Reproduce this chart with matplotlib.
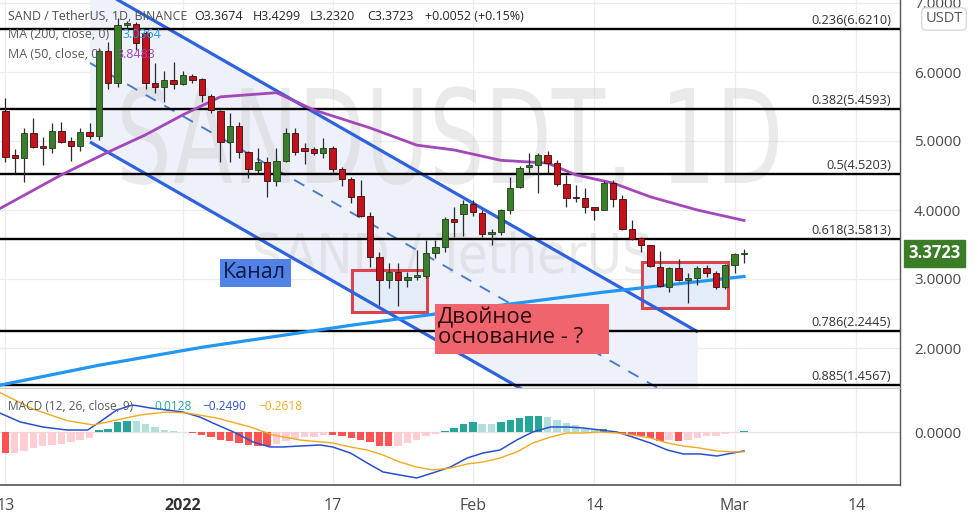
import numpy as np
import pandas as pd
import matplotlib
matplotlib.use("Agg")
import matplotlib.pyplot as plt
from matplotlib.patches import Rectangle, PathPatch, Polygon
from matplotlib.textpath import TextPath
from matplotlib.font_manager import FontProperties
from matplotlib.transforms import Affine2D

plt.rcParams['font.family'] = ['Open Sans', 'DejaVu Sans']

# ---------------- data ----------------
start_date = "2021-12-13"
ref_date = pd.Timestamp("2022-01-01")
opens = [5.43, 4.79, 4.75, 5.12, 4.93, 4.90, 5.14, 5.00, 4.93, 5.13,
         5.07, 6.30, 5.84, 6.68, 6.70, 6.56, 5.84, 5.78, 5.88, 5.83,
         5.94, 5.90, 5.65, 5.43, 4.99, 5.22, 4.84, 4.58, 4.70, 4.42,
         4.71, 5.12, 4.90, 4.89, 4.83, 4.90, 4.59, 4.45, 4.20, 3.91,
         3.32, 2.99, 3.10, 2.98, 3.03, 3.04, 3.38, 3.46, 3.87, 3.94,
         4.09, 3.96, 3.65, 3.68, 4.00, 4.33, 4.62, 4.65, 4.80, 4.68,
         4.38, 4.18, 4.18, 4.04, 4.00, 4.39, 4.16, 3.72, 3.59, 3.49,
         3.17, 2.88, 3.16, 2.98, 3.01, 3.16, 3.09, 2.88, 3.20, 3.3674]
highs = [5.62, 4.88, 5.19, 5.33, 5.06, 5.26, 5.27, 5.06, 5.19, 5.26,
         6.35, 6.44, 6.78, 6.74, 6.73, 6.60, 6.13, 6.01, 6.14, 6.01,
         5.97, 5.91, 5.68, 5.45, 5.41, 5.28, 4.85, 4.90, 4.77, 4.90,
         5.19, 5.19, 4.97, 4.92, 5.04, 4.93, 4.62, 4.48, 4.43, 3.97,
         3.39, 3.23, 3.23, 3.10, 3.42, 3.57, 3.57, 3.90, 4.04, 4.14,
         4.14, 4.00, 3.72, 4.02, 4.48, 4.64, 4.83, 4.83, 4.86, 4.72,
         4.51, 4.36, 4.32, 4.04, 4.42, 4.43, 4.22, 3.86, 3.61, 3.50,
         3.41, 3.18, 3.29, 3.09, 3.19, 3.20, 3.12, 3.22, 3.38, 3.4299]
lows = [4.70, 4.54, 4.41, 4.90, 4.65, 4.83, 4.97, 4.71, 4.86, 5.03,
        5.01, 5.75, 5.78, 6.64, 6.32, 5.75, 5.70, 5.57, 5.75, 5.81,
        5.84, 5.57, 5.40, 4.70, 4.70, 4.75, 4.46, 4.54, 4.19, 4.35,
        4.70, 4.80, 4.67, 4.80, 4.75, 4.55, 4.35, 4.10, 3.90, 3.17,
        2.62, 2.87, 2.61, 2.88, 2.99, 3.01, 3.30, 3.39, 3.61, 3.62,
        3.92, 3.61, 3.49, 3.64, 3.94, 4.32, 4.54, 4.25, 4.54, 4.35,
        4.04, 4.12, 3.96, 3.86, 4.00, 4.04, 3.71, 3.56, 3.39, 3.17,
        2.88, 2.81, 2.97, 2.65, 2.91, 3.03, 2.85, 2.86, 3.09, 3.2320]
closes = [4.77, 4.76, 5.12, 4.91, 4.90, 5.14, 4.99, 4.93, 5.13, 5.07,
          6.30, 5.84, 6.68, 6.71, 6.42, 5.84, 5.78, 5.88, 5.83, 5.96,
          5.88, 5.67, 5.45, 4.99, 5.22, 4.84, 4.59, 4.70, 4.42, 4.71,
          5.12, 4.84, 4.86, 4.83, 4.90, 4.59, 4.45, 4.19, 3.91, 3.32,
          2.99, 3.10, 2.98, 3.03, 3.06, 3.38, 3.46, 3.87, 3.83, 4.09,
          3.97, 3.65, 3.68, 4.00, 4.32, 4.61, 4.65, 4.80, 4.68, 4.38,
          4.17, 4.17, 4.04, 4.00, 4.39, 4.16, 3.72, 3.58, 3.49, 3.19,
          2.90, 3.16, 2.99, 3.01, 3.16, 3.09, 2.88, 3.20, 3.36, 3.3723]

# MA lines (day offset from 2022-01-01, value)
ma50_days = [-20, -13, -8, -4, 0, 4, 7, 10, 14, 20, 25, 29, 34, 39, 42, 46, 50, 55, 60]
ma50_vals = [3.99, 4.51, 4.84, 5.09, 5.38, 5.64, 5.67, 5.70, 5.45, 5.19,
             4.94, 4.87, 4.72, 4.68, 4.51, 4.39, 4.19, 4.00, 3.8483]
ma200_days = [-20, -9, 2, 18, 34, 45, 60]
ma200_vals = [1.45, 1.75, 2.01, 2.33, 2.62, 2.81, 3.0364]

# MACD histogram (one per candle)
macd_hist = [-0.276, -0.270, -0.254, -0.210, -0.189, -0.167, -0.154, -0.132, -0.100, -0.079,
             0.030, 0.044, 0.127, 0.149, 0.145, 0.105, 0.061, 0.030, 0.018, -0.005,
             -0.013, -0.035, -0.066, -0.110, -0.123, -0.145, -0.167, -0.180, -0.182, -0.158,
             -0.120, -0.090, -0.070, -0.060, -0.040, -0.044, -0.057, -0.079, -0.100, -0.136,
             -0.180, -0.190, -0.180, -0.145, -0.100, -0.057, -0.022, 0.013, 0.053, 0.105,
             0.127, 0.110, 0.110, 0.132, 0.154, 0.184, 0.206, 0.215, 0.197, 0.154,
             0.118, 0.088, 0.044, 0.031, 0.040, 0.010, -0.022, -0.035, -0.057, -0.079,
             -0.123, -0.110, -0.123, -0.100, -0.079, -0.057, -0.048, -0.022, -0.009, 0.0128]
macd_days = [-19.6, -17.4, -15.0, -12.4, -10.2, -8.9, -7.1, -5.4, -3.5, -1.7, 0.0, 1.8,
             3.2, 5.4, 7.5, 9.3, 10.7, 12.5, 14.7, 16.0, 17.9, 19.7, 21.4, 23.2, 25.0,
             26.7, 28.6, 30.4, 32.1, 33.9, 35.7, 37.4, 39.3, 41.1, 42.8, 44.6, 46.4,
             48.1, 50.0, 51.8, 53.5, 55.3, 57.1, 58.8, 60.0]
macd_vals = [0.250, 0.132, 0.066, 0.026, 0.026, 0.132, 0.289, 0.355, 0.316, 0.289, 0.263, 0.197,
             0.118, 0.000, -0.132, -0.197, -0.197, -0.184, -0.171, -0.197, -0.276, -0.408,
             -0.526, -0.566, -0.605, -0.539, -0.461, -0.342, -0.276, -0.237, -0.105, 0.000,
             0.066, 0.066, 0.053, 0.026, 0.000, -0.066, -0.145, -0.237, -0.289, -0.289,
             -0.316, -0.276, -0.249]
signal_days = [-19.6, -16.0, -12.4, -9.6, -7.1, -4.6, -1.7, 0.4, 3.6, 7.2, 9.6, 12.5, 16.0,
               17.9, 19.7, 21.4, 23.2, 25.0, 26.7, 28.6, 30.4, 32.1, 33.9, 35.7, 37.4, 39.3,
               41.1, 42.8, 44.6, 46.4, 48.1, 50.0, 51.8, 53.5, 55.3, 57.1, 58.8, 60.0]
signal_vals = [0.520, 0.300, 0.150, 0.092, 0.158, 0.224, 0.263, 0.250, 0.184, 0.066, -0.039,
               -0.105, -0.145, -0.197, -0.237, -0.303, -0.395, -0.461, -0.500, -0.474, -0.421,
               -0.395, -0.342, -0.263, -0.145, -0.066, -0.013, -0.013, 0.000, -0.013, -0.039,
               -0.079, -0.145, -0.184, -0.211, -0.250, -0.263, -0.2618]

# Fibonacci levels
fib_levels = [6.6210, 5.4593, 4.5203, 3.5813, 2.2445, 1.4567]
fib_labels = ["0.236(6.6210)", "0.382(5.4593)", "0.5(4.5203)",
              "0.618(3.5813)", "0.786(2.2445)", "0.885(1.4567)"]

# Parallel channel anchors (day offsets, prices)
channel_days = [-9.95, 55.08]
channel_upper = [7.276, 2.232]
channel_lower = [4.986, -0.058]

# Highlight rectangles: (day0, day1, price_low, price_high)
rect1 = (18.1, 26.1, 2.52, 3.13)
rect2 = (49.1, 58.3, 2.58, 3.25)

# Text boxes: (day0, day1, price_low, price_high)
box_kanal = (3.96, 11.55, 2.884, 3.29)
box_double = (26.95, 45.56, 1.913, 2.638)

tick_dates = ["2021-12-13", "2022-01-01", "2022-01-17", "2022-02-01",
              "2022-02-14", "2022-03-01", "2022-03-14"]
tick_labels = ["13", "2022", "17", "Feb", "14", "Mar", "14"]

price_ticks = [2, 3, 4, 5, 6, 7]
last_price = 3.3723

# ---------------- figure ----------------
W, H = 979, 512
fig = plt.figure(figsize=(W / 100, H / 100), dpi=100)
fig.patch.set_facecolor("white")

ax = fig.add_axes([0, (H - 388) / H, 900 / W, 388 / H])
axm = fig.add_axes([0, (H - 485) / H, 900 / W, (485 - 389) / H], sharex=ax)

dates = pd.date_range(start_date, periods=len(opens), freq="D")
x = np.asarray((dates - ref_date).days, dtype=float)
o = np.array(opens); h = np.array(highs); l = np.array(lows); c = np.array(closes)

xmin, xmax = (0 - 183) / 9.35, (900 - 183) / 9.35
ax.set_xlim(xmin, xmax)
ax.set_ylim(6 - (388 - 72) / 69, 6 + 72 / 69)
axm.set_ylim(-(485 - 432) / 76, (432 - 389) / 76)

grid_c = "#ececec"
tick_x = [(pd.Timestamp(d) - ref_date).days for d in tick_dates]
for a in (ax, axm):
    for tx in tick_x:
        a.axvline(tx, color=grid_c, lw=0.9, zorder=0)
for p in price_ticks:
    ax.axhline(p, color=grid_c, lw=0.9, zorder=0)
axm.axhline(0, color="#e3e3e3", lw=0.9, zorder=0)

# channel fill
cu = np.array(channel_upper); cl = np.array(channel_lower)
poly = Polygon([[channel_days[0], cu[0]], [channel_days[1], cu[1]],
                [channel_days[1], cl[1]], [channel_days[0], cl[0]]],
               closed=True, facecolor="#eef0fa", edgecolor="none", zorder=0.5)
ax.add_patch(poly)

# watermarks
def watermark(s, x0, x1, ytop, ybase):
    fp = FontProperties(family="DejaVu Sans")
    tp = TextPath((0, 0), s, size=100, prop=fp)
    cap = TextPath((0, 0), "H", size=100, prop=fp).get_extents().height
    bb = tp.get_extents()
    sx = (x1 - x0) / bb.width
    sy = (ybase - ytop) / cap
    tr = Affine2D().translate(-bb.x0, 0).scale(sx, sy).translate(x0, H - ybase)
    patch = PathPatch(tp, transform=tr, facecolor="#cfcfcf", edgecolor="none",
                      alpha=0.42, zorder=0.8)
    ax.add_patch(patch)

watermark("SANDUSDT, 1D", 122, 778, 88, 183)
watermark("SAND / TetherUS", 255, 650, 233, 273)

# rectangles
for (d0, d1, p0, p1) in (rect1, rect2):
    ax.add_patch(Rectangle((d0, p0), d1 - d0, p1 - p0, facecolor="#e4ecf9",
                           edgecolor="#d9454f", lw=2.2, zorder=1))

# channel lines
ax.plot(channel_days, channel_upper, color="#2f62e0", lw=2.3, zorder=2, solid_capstyle="butt")
ax.plot(channel_days, channel_lower, color="#2f62e0", lw=2.3, zorder=2, solid_capstyle="butt")
ax.plot(channel_days, (cu + cl) / 2, color="#4a7ed0", lw=1.4, ls=(0, (6, 5)), zorder=2)

# fib lines
for lv, lb in zip(fib_levels, fib_labels):
    ax.axhline(lv, color="black", lw=1.7, zorder=2.5)
    ax.annotate(lb, xy=(891 / 900, lv), xycoords=("axes fraction", "data"),
                xytext=(0, 1.5), textcoords="offset points", ha="right", va="bottom",
                fontsize=9.2, color="#333333", zorder=3)

# MAs
ax.plot(ma200_days, ma200_vals, color="#2196F3", lw=2.3, zorder=3)
ax.plot(ma50_days, ma50_vals, color="#A347BA", lw=2.0, zorder=3)

# candles
up = c >= o
wcol = "#2b2b2b"
ax.vlines(x, l, h, color=wcol, lw=0.9, zorder=4)
body_bot = np.minimum(o, c)
body_h = np.maximum(np.abs(c - o), 0.012)
ax.bar(x[up], body_h[up], bottom=body_bot[up], width=0.68, color="#3c7d2c",
       edgecolor="#1f3d16", lw=0.6, zorder=5)
ax.bar(x[~up], body_h[~up], bottom=body_bot[~up], width=0.68, color="#c4121c",
       edgecolor="#3d0a0a", lw=0.6, zorder=5)

# text boxes
d0, d1, p0, p1 = box_kanal
ax.add_patch(Rectangle((d0, p0), d1 - d0, p1 - p0, facecolor="#5282e6", edgecolor="none", zorder=6))
ax.text(d0 + 0.3, (p0 + p1) / 2, "Канал", fontsize=15.5, color="#0b1c48",
        va="center", ha="left", zorder=7)
d0, d1, p0, p1 = box_double
ax.add_patch(Rectangle((d0, p0), d1 - d0, p1 - p0, facecolor="#f0646e", edgecolor="none", zorder=6))
ax.text(d0 + 0.35, (p0 + p1) / 2 + 0.02, "Двойное\nоснование - ?", fontsize=16, color="#2a0c0e",
        va="center", ha="left", linespacing=0.95, zorder=7)

# MACD
hist = np.array(macd_hist)
prev = np.concatenate([[hist[0]], hist[:-1]])
cols = []
for hv, pv in zip(hist, prev):
    if hv >= 0:
        cols.append("#26A69A" if pv < hv else "#B2DFDB")
    else:
        cols.append("#FFCDD2" if pv < hv else "#FF5252")
axm.bar(x, hist, width=0.8, color=cols, zorder=2)
axm.plot(macd_days, macd_vals, color="#2a4fd1", lw=1.1, zorder=3)
axm.plot(signal_days, signal_vals, color="#F2A91E", lw=1.0, zorder=3)

# axes styling
axis_c = "#555555"
lab_c = "#4a4a4a"
for a in (ax, axm):
    for s in ("top", "left"):
        a.spines[s].set_visible(False)
    a.spines["right"].set_color(axis_c)
    a.spines["right"].set_linewidth(1.0)
    a.yaxis.tick_right()
    a.tick_params(axis="y", length=0, pad=10, labelsize=11, labelcolor=lab_c)
ax.spines["bottom"].set_color("#c8c8c8")
ax.spines["bottom"].set_linewidth(1.0)
axm.spines["bottom"].set_color(axis_c)
axm.spines["bottom"].set_linewidth(1.2)

ax.set_yticks(price_ticks)
ax.set_yticklabels([f"{p:.4f}" for p in price_ticks])
axm.set_yticks([0])
axm.set_yticklabels(["0.0000"])
ax.tick_params(axis="x", length=0, labelbottom=False)
axm.set_xticks(tick_x)
axm.set_xticklabels(tick_labels)
axm.tick_params(axis="x", length=0, pad=9, labelsize=11.5, labelcolor=lab_c)
for t in axm.get_xticklabels():
    if t.get_text() == "2022":
        t.set_fontweight("bold")
        t.set_color("#333333")

# current price tag
ax.annotate(f"{last_price:.4f}", xy=(1.0, last_price), xycoords=("axes fraction", "data"),
            xytext=(6, 0), textcoords="offset points", ha="left", va="center",
            fontsize=12, fontweight="bold", color="white", zorder=10, annotation_clip=False,
            bbox=dict(boxstyle="square,pad=0.28", fc="#3a7d26", ec="#3a7d26"))

# USDT badge
fig.text(944 / W, 1 - 19 / H, "USDT", ha="center", va="center", fontsize=10.5,
         color="#555555",
         bbox=dict(boxstyle="round,pad=0.25,rounding_size=0.3", fc="white", ec="#d0d0d0", lw=0.8))

# legends
def ftext(px, py, s, color, size=9.0, **kw):
    fig.text(px / W, 1 - py / H, s, color=color, fontsize=size, va="center", ha="left", **kw)

ftext(8, 16, "SAND / TetherUS, 1D, BINANCE", "#4d4d4d", size=8.9)
ftext(194, 16, "O3.3674", "#262626")
ftext(253, 16, "H3.4299", "#262626")
ftext(310, 16, "L3.2320", "#262626")
ftext(367, 16, "C3.3723", "#262626")
ftext(425, 16, "+0.0052 (+0.15%)", "#262626")
ftext(8, 35, "MA (200, close, 0)", "#5a5a5a")
ftext(123, 35, "3.0364", "#2196F3")
ftext(8, 54, "MA (50, close, 0)", "#5a5a5a")
ftext(117, 54, "3.8483", "#A347BA")
ftext(8, 406, "MACD (12, 26, close, 9)", "#5a5a5a", size=8.6)
ftext(154, 406, "0.0128", "#26A69A", size=8.6)
ftext(202, 406, "\u22120.2490", "#2a4fd1", size=8.6)
ftext(258, 406, "\u22120.2618", "#F2A91E", size=8.6)

fig.savefig("out.png", dpi=100, facecolor="white")
